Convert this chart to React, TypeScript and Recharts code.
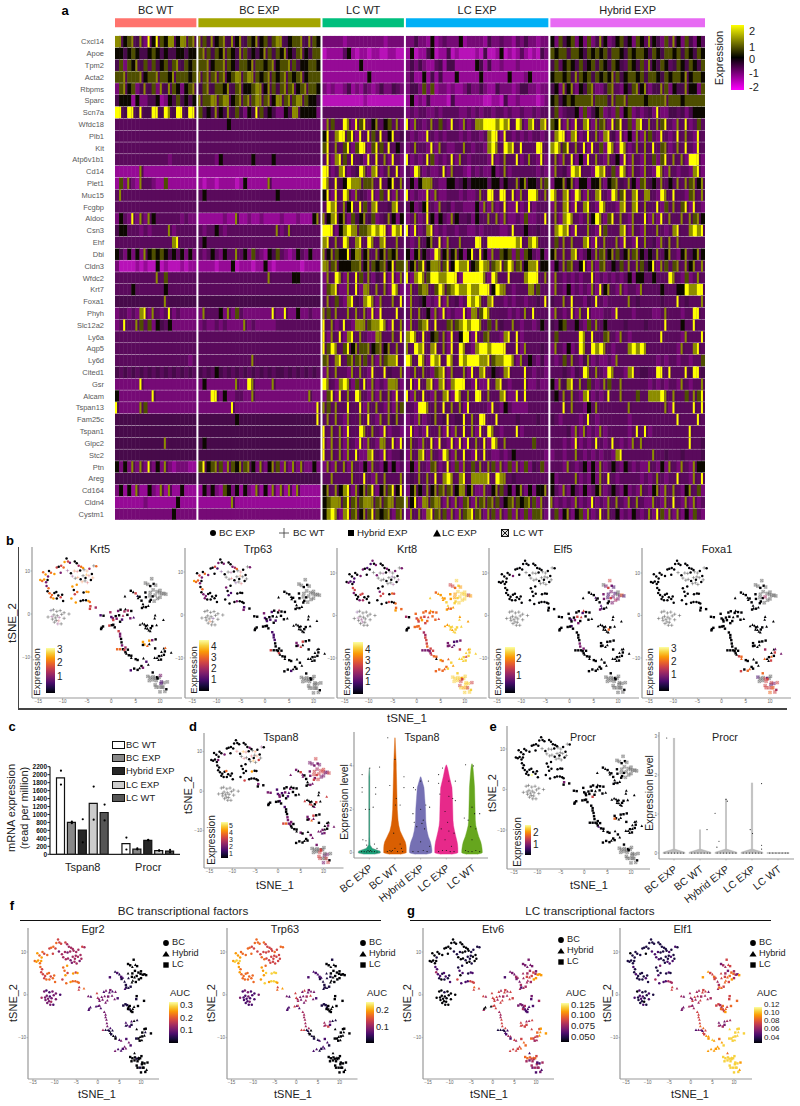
import React from "react";
import {
  ScatterChart, Scatter, XAxis, YAxis, ReferenceArea, ComposedChart, Bar, Cell, Line, Area,
} from "recharts";

const FONT = '"Liberation Sans", Arial, sans-serif';

/* ---------- panel a ---------- */
const genes = ["Cxcl14","Apoe","Tpm2","Acta2","Rbpms","Sparc","Scn7a","Wfdc18","Plb1","Kit","Atp6v1b1","Cd14","Plet1","Muc15","Fcgbp","Aldoc","Csn3","Ehf","Dbi","Cldn3","Wfdc2","Krt7","Foxa1","Phyh","Slc12a2","Ly6a","Aqp5","Ly6d","Cited1","Gsr","Alcam","Tspan13","Fam25c","Tspan1","Gipc2","Stc2","Ptn","Areg","Cd164","Cldn4","Cystm1"];
const heatGroups = ["BC WT","BC EXP","LC WT","LC EXP","Hybrid EXP"];
const heatGroupCols = [20,30,20,35,38];
const heatGroupColors = ["#ff736d","#a3a500","#00bf7d","#00b0f6","#e76bf3"];
const heatPalette = ["#f000f0","#b812b8","#960a96","#760a76","#5a0a5c","#470a4a","#0c0800","#4e4e00","#8c8c00","#ffff00"];
const heatRows = [
"88678583969768868878 875867858685768675788567785876 33333233333333323333 33533262343336233332533433243533233 63756736373586346756376486537486375364",
"66567655676565566566 787576876587565687576865786577 12222462122122112211 26122561225121111215112612124212153 76775776576767577657677657657767576576",
"57376857475675785767 778677876577687767867787566776 22222222262222222222 35353224525522222652522322232222222 57467657567576576547657486576457657657",
"77877786778776877767 878787867887887678767876786777 22222222222622222222 35226252522262222262222226222362222 67767587675767687567767577657677686776",
"37867358573858763678 578577685786678868757878678776 32322352324323533543 35537372332322353353225333235533233 56386836578335784365786835587365586637",
"56662633556236575656 877887886787878878688787887665 11111111112111111111 26232522221522222221122152232222123 67567677778777587787777677778777677777",
"99599595599598599599 756586585753659756533658866663 44444444444444444444 34344334344443343434434434334334344 57345563735673437367343453933554535666",
"44444444444444444444 444444464444444444444444444444 38744983979468467483 93843484743943834889998989498389489 76938394893878397947389484879438493474",
"44444444444444444444 444444444444444444444444444444 69489979394975946945 43433943434443434434899394343434434 48993893494838953936383874394349484394",
"44444444444444444444 444444444444444444444444444444 79484793799379749464 34844393843344843443898498949444994 89879484939473983983484849478348494394",
"44444444444443444444 444436444444464444644444444444 49389749453949483943 93434973434938434444393484493484393 48384936394843846393843847379484839993",
"22222282222222222222 222222222222222222222222222222 99348934598389348493 43983433493844324343363483444444343 38453989443989473983843843983843443893",
"27383284432272222222 212212222126222228222222222222 98495698887784946958 46368884336645656666466465586866587 36686836636683678548637856484648487868",
"48444444444444444444 464444444444444444464444444444 69394983854393749383 93433938334443433484994994938499848 98489398384894398794894884398494437848",
"44444444444444444444 444444444444444444444444444444 49894869497489445894 46346943845344333638383493393493444 38489394894398443894894844937484793943",
"36439383864444443433 222222322822322322223222322268 86896837568573458636 34834963643864453644848383343733449 48389843486983794843844938394844848786",
"56644434344448344444 434464344444444444483484444444 99936898877898993989 93934893434434433434444334944644544 48989394484397444893843844843489448989",
"44444444444444894444 464444444444444444444444444444 89484984894984894484 43484684938448444994999999989489844 47484844893948448394394845385848444444",
"65363638676765646363 434643644846374326574323643633 86876696886848687684 63686439868686369596384767373764363 68484893464878687568786465846843685686",
"31111212116121112122 222212226122212262122222212222 88786667786876786977 86879688879698896798878979878688966 36487846938378465748487569387478486848",
"44444444448474444444 444444444444444448444446644444 38498384974835493938 93898799889993999998398449444899948 38434343449343434346366446444984373484",
"44446444444464444444 444444444444444444444444444444 37893384938848483983 38478847987898898899969884344488744 38436343438396843834438444464446698899",
"55555555555585555555 555555555555555555555555555555 48474389548983844849 38456343938453498984894434344344549 54484944354943444448454444454449454448",
"34434389384349343333 384446383743333333933933633433 87484484848393944494 48484638393433938879844443434849444 38434938493334439444344443348444344994",
"34944874736546333333 343343433338343333344444444444 94834943888788983948 38478949447878989984748544843443464 54674464374846444454444544449444644944",
"44444444444444444444 444444444444444444444444444444 93849389484338844849 89849467483946993947844389493444444 47444449849447843843444444494444384449",
"44444444444444444444 444444444444444444444444444444 97984796877867868484 84989489483949843899899994493844454 38436349849898434448989844444443844894",
"44444444444444444434 444444444444484444444444444444 78489478787483878894 98498398949849899988978899838464353 43474843583433438444444444343443443447",
"54545454545454545454 545465454545454545455454545454 38484438484394495448 34848437893844839489465489444943443 44454354984843984438945544994944495995",
"33333393333333333333 363333333833983333833333333333 98438983749383438883 49394893893899943933948943444933433 63858948474348744844444434343443843448",
"63333333393333333333 333993633443383333333333333833 37939484984383848394 93849438489398484994844893394944444 56484843893434944844474488898484474879",
"93333387333333333333 333333339333333333333333333339 87484494493848438387 44399848494848394444394364333344444 44494844364844444448444444448394444949",
"55555555555555555555 555555555655555555555555555559 48484384484943848584 34383458459455948499449444454444544 54344443494344444443444444444449444494",
"55555555555555555555 555555555555555555555555555555 94848394498484393443 39343944839384948394984344493444444 44445383834383444443494934444444449444",
"55555555555585555555 565555555555555555555555555555 93848384393843884939 48438493943939394849398484444447444 44434393434943494343848444444444449445",
"55555555555555555555 555555555555555555555555555555 94848384933894393445 38489384398384943949433434644444443 34434484343434438944444448445444544445",
"63638383936383233322 796787387687863836873838383363 38384838436384363634 36384378349373847484873837383735473 44438434636383464364343384363843843866",
"55555555555555555555 555555555555555555555555555555 44844448449438484448 45484849489848948888949884544444444 63444483436384943444443434843449443849",
"36262822632828226222 263632763626328262828282822222 68486893868793687969 36864868787868868338468746368363668 64383643634683464363438436838484368473",
"22222223222222262222 222222228222222222222222222222 67888797878887878877 86938878838383783878787467876787384 83434383439343848438484338438494383834",
"33333333333333633333 333333333333333333333333333333 68983897868797678378 38483897873838789783873837383737783 47368367383494846343643483973838363743",
];
const heatCells = (() => {
  const out: any[] = [];
  heatRows.forEach((line, r) => {
    const parts = line.split(" ");
    let offset = 0;
    parts.forEach((p, g) => {
      const cols = heatGroupCols[g];
      const at = (c: number) => Number(p[c] ?? p[c - p.length] ?? "4");
      for (let c = 0; c < cols; c++) {
        const d = at(c);
        const solo = d >= 8 && (c + 1 >= cols || at(c + 1) < 8);
        out.push({ col: offset + c + 0.5, row: r + 0.5, d, solo, last: c === cols - 1 });
      }
      offset += cols + 0.5;
    });
  });
  return out;
})();
const heatTicks = genes.map((_, i) => i + 0.5);
const CELL_W = 590 / 145;
const CELL_H = 11.73;

function HeatCell(p: any) {
  const { d, solo, last } = p.payload;
  const x = p.cx - CELL_W / 2; const y = p.cy - CELL_H / 2 + 0.15; const h = CELL_H - 0.3;
  const w = CELL_W + (last ? 0 : 0.5);
  if (solo) {
    return (
      <g>
        <rect x={x} y={y} width={w} height={h} fill="#520a54" />
        <rect x={x} y={y} width={CELL_W * 0.5} height={h} fill={heatPalette[d]} />
      </g>
    );
  }
  return <rect x={x} y={y} width={w} height={h} fill={heatPalette[d]} />;
}

function HeatPanel() {
  let off = 0;
  const bands = heatGroups.map((g, i) => {
    const b = { name: g, x1: off, x2: off + heatGroupCols[i], color: heatGroupColors[i] };
    off += heatGroupCols[i] + 0.5;
    return b;
  });
  return (
    <div style={{ position: "absolute", left: 20, top: 0 }}>
      <ScatterChart width={690} height={520} margin={{ top: 0.3, right: 5, left: 0, bottom: 0 }}>
        <XAxis type="number" dataKey="col" domain={[0, 145]} hide />
        <YAxis type="number" dataKey="row" reversed domain={[-3, 41]} ticks={heatTicks} width={95} interval={0}
          tickFormatter={(v: number) => genes[Math.round(v - 0.5)] ?? ""} axisLine={false} tickLine={false} tickMargin={5}
          tick={{ fontSize: 7.5, fill: "#5a5a5a", fontFamily: FONT }} />
        <Scatter data={heatCells} isAnimationActive={false} shape={HeatCell} />
        {bands.map((b) => (
          <ReferenceArea key={b.name} x1={b.x1} x2={b.x2} y1={-1.49} y2={-0.72} fill={b.color} fillOpacity={1} stroke="none" ifOverflow="extendDomain" />
        ))}
      </ScatterChart>
      {bands.map((b) => (
        <T key={b.name} x={115 - 20 + (b.x1 + b.x2) / 2 * CELL_W} y={10} size={11} color="#222">{b.name}</T>
      ))}
    </div>
  );
}

/* ---------- shared helpers ---------- */
function T({ x, y, size = 10, rot = 0, anchor = "middle", bold = false, color = "#222", children }: any) {
  const tx = anchor === "middle" ? "-50%" : "0";
  return (
    <span style={{ position: "absolute", left: x, top: y, fontFamily: FONT, fontSize: size, lineHeight: 1, color, fontWeight: bold ? 700 : 400, whiteSpace: "nowrap", transform: `translate(${tx},-50%) rotate(${rot}deg)` }}>
      {children}
    </span>
  );
}
const inferno = ["#000004","#1b0c41","#4a0c6b","#781c6d","#a52c60","#cf4446","#ed6925","#fb9b06","#f7d13d","#fcffa4"];
const infernoGradient = `linear-gradient(to top, ${inferno.join(",")})`;
const heatGradient = "linear-gradient(to top,#ff00ff,#000000 50%,#ffff00)";
function ColorBar({ x0, x1, y0, y1, grad = infernoGradient }: any) {
  return <div style={{ position: "absolute", left: x0, top: y0, width: x1 - x0, height: y1 - y0, background: grad }} />;
}

/* ---------- tSNE coordinates, by region ---------- */
const clusterA = [[-14.6,7.9],[-14.2,7.7],[-13.8,8],[-13.4,7.4],[-13.1,7.9],[-14,9.7],[-13.5,9.2],[-13,8.7],[-12.8,10],[-12.4,9.6],[-11.7,9.3],[-11.2,10.8],[-10.8,11],[-10.3,11.2],[-9.8,10.8],[-10.4,9.6],[-9.6,12.1],[-9.2,12.9],[-8.9,12.2],[-8.5,11.9],[-7.5,12.2],[-7.1,11.8],[-6.7,11.2],[-6.2,11],[-5.8,10.7]];
const clusterC = [[-9,10.1],[-8.3,9.5],[-7.6,10],[-7,9.9],[-6.4,10.1],[-5.6,10.3],[-5,10],[-4.5,10.5],[-3.6,11.2],[-3.1,11.1],[-8,8.8],[-7.4,8.3],[-6.9,8.5],[-6.3,8.1],[-5.8,8.9],[-5.1,9.1],[-4.6,8.9],[-4,9.3],[-6,7.5],[-5.4,7.7],[-4.9,7.3],[-4.2,7.9],[-3.8,8.4],[-5.3,8.4]];
const clusterB = [[-13.3,6.5],[-12.9,6],[-13.1,5.3],[-12.7,4.8],[-12.2,4.4],[-11.7,4.9],[-11.3,5.1],[-10.9,4.3],[-12.4,3.9],[-11.9,3.6],[-11.2,3.6],[-10.4,3.9],[-9.9,3],[-10.1,4.5]];
const clusterD = [[-8,6.4],[-7.7,5.6],[-7.1,6.8],[-7.5,4.6],[-7,5.1],[-5.7,5],[-5.1,5.2],[-4.7,5.1],[-7.3,2.7],[-6.3,3],[-5.8,3.2],[-5.2,3.2],[-4.7,3],[-4.4,2.8],[-8.2,3.6]];
const clusterE = [[-13,-0.7],[-12.2,-0.6],[-11.8,-0.2],[-11.5,-0.9],[-11.1,-0.4],[-10.7,-0.8],[-10.2,-0.1],[-9.7,0.3],[-12.4,0.8],[-11.9,1],[-11.2,0.6],[-11.3,-1.5],[-10.8,-1.6],[-11.7,-1.9],[-11,-2.3],[-10.3,-2.3],[-9.7,-1],[-12.1,-1.2],[-8.7,0],[-10.5,0.8]];
const clusterF = [[-4.3,1.8],[-4.4,1.2],[-3.2,1.5],[-2.2,-0.3],[-1.6,-0.4],[-2.1,-3.5],[-2,-3.2],[-1.7,-2.9]];
const clusterG = [[-0.2,0.4],[0,-0.7],[0.3,-1],[0.4,-1.4],[0.9,-0.5],[1.1,-1.1],[1.6,-0.3],[1.8,-1.8],[2.2,-1.3],[2.4,-0.4],[2.7,0.6],[2.9,1.1],[1.4,0.7],[3.4,0.8],[3.9,-1],[4.6,-0.8],[4.1,0.7],[3.3,-0.2],[1.9,1],[0.4,-2.5],[-0.4,-2.7],[0.1,-2.6],[0.7,-3.1]];
const clusterH = [[1.5,-4],[1.8,-4.6],[1.8,-5.2],[2,-5.8],[2.1,-6.6],[2.2,-7.3],[2.9,-7.8]];
const clusterI = [[1.2,-8.2],[1.8,-8.2],[2.4,-8.2],[2.7,-8.4],[2.9,-8.9],[3.1,-9.2],[3.4,-8.3],[3.6,-9.6],[4.1,-9.7],[4.1,-10.2]];
const clusterJ = [[2.8,4.1],[4,5.4],[4.5,5.1],[5,4.8],[5.4,4.2],[5.8,4],[5.5,3.7],[6.2,3.1],[6.5,2.3],[6.3,1.4],[6.6,1.7],[7.1,1.6],[7.6,1.9],[7,5],[7.1,3.9]];
const clusterK = [[7,7.2],[7.5,6.9],[8,6.5],[8.3,8.2],[8.7,7],[9.1,6.7],[8.6,5.6],[8,5],[7.9,4.2],[8.5,4.1],[9,4.4],[9.4,5.2],[9.9,4.9],[10,3.9],[10.4,4.7],[10.8,4.8],[11.2,4.6],[9.5,3.6],[8.1,3.3],[7.9,2.9],[8.8,3],[10,5.5]];
const clusterL = [[5.9,-2.5],[6.4,-2.2],[6.8,-2.4],[7.1,-2.8],[7.4,-3.4],[7.7,-3.8],[8.1,-3.3],[8,-4],[7.4,-2.6],[8.4,-2.8],[8.9,-1],[9,-0.3],[9.3,-2.6],[10.7,-1.4],[7,-3.3]];
const clusterM = [[6.5,-6.5],[6.8,-7.1],[7.4,-7.4],[6.5,-7.2],[7.8,-6.2],[7.8,-7],[8.4,-6.1],[9.1,-5.9]];
const clusterN = [[9.4,-10.2],[9.8,-9.8],[10.3,-8.8],[10.8,-8],[11,-8.7],[10.2,-10.6],[9.7,-10.7],[10.8,-9.5],[11.1,-7.9],[12.3,-9],[8.9,-10.2],[10.3,-9.7],[9,-8]];
const clusterO = [[4,-13.1],[5.4,-13],[5.8,-12.6],[6.2,-12.1],[6.5,-12.5],[7.2,-11.1],[7.6,-11.8],[5,-10.5],[5.4,-10.7],[6.6,-10.3],[4.7,-12.7]];
const clusterP = [[7.5,-14.5],[8,-14.8],[8.6,-14.6],[9,-14.9],[9.4,-14.7],[9.8,-14.8],[10.1,-14.3],[7.8,-15.5],[8.5,-15.3],[9.2,-15.5],[9.5,-15],[9,-16.5],[9.8,-17],[9.2,-17],[10.2,-16.2],[10.8,-16],[10.4,-17],[11.3,-17.5],[11,-18],[10.6,-17],[11.5,-15.8],[10.3,-15.8],[10,-18.1],[8.5,-13.6]];
const clusters = [clusterA,clusterC,clusterB,clusterD,clusterE,clusterF,clusterG,clusterH,clusterI,clusterJ,clusterK,clusterL,clusterM,clusterN,clusterO,clusterP];
/* a=BC EXP w=BC WT h=Hybrid EXP l=LC EXP k=LC WT */
const pointGroups = "aaaaaaaaaaaaaaaaaaaaaaaaa wawwawwawawwwawwwawwwawa aaaaaaaaaaaaaa aaaaaaaaaaaaaaa wwwwwwwwwwwwwwwwwwww hhhhhhhh hhhhhhhhhlhlhhhlhhhhhhh hhhhhhh hhhhhlhhhl lhlhlhlhlhlhlhh kkhkhkkkkhkkkkkkkkhhkk lllhllhllhlllll hhlhhlhh lhllhhlhllllh hhlhhhlhhlh kkkkhkkkkkhkkkkkkhkkkkkh".split(" ");

/* colour index 0-9 per region, order as in clusters */
const valKrt5 = "7673067306750563705300467 306500640630600750605060 36066000670500 707560777000767 03000300100050300000 55420000 42350300244034320000500 5330034 6605000000 000510000000000 0000000000000000000000 000000000000000 77607030 0000000060000 20003200000 000000300000002000000200";
const valTrp63 = "7663005306300520300300346 200300500300500600205000 06033000300000 300220000030000 00000200000600000000 23000000 32020200200420000000000 2222000 5000500000 000000000000000 0000000000000000000000 000000000000000 33505000 0000000000000 02000000000 000000000000000000000000";
const valKrt8 = "0320200200330200230300030 030303030300000200003030 55300550034000 030550650050060 03030000200300000000 67640000 65656755656766656666666 4455565 3333455660 867777788766777 5568878778888884788888 778878888887878 33332223 8887888888855 66668877666 888878888555788888855888";
const valElf5 = "0000000000300000000000000 000000000000000000000000 00000000000000 000000000000000 00000000000000000000 00000000 00200353052500000002000 0000333 0000000000 000020002320033 0355323225320336240030 000000600000000 00000000 0000000000000 00000000000 000000000000000000000000";
const valFoxa1 = "0000000000000000000000000 000000000000000000000000 00000000000000 000000000000000 00000000000000000000 00000000 00000000000000000000000 0000000 0000000566 000000000000000 0000000000400000000000 000000000000000 00000000 0000550033664 56600000000 200530000555552354565566";
const valTspan8 = "0000300000300000000000030 507500603005005060070500 00000060000000 000007005000000 00000000000000000000 30033000 22332030223000000002000 2000333 5633000000 330530300003333 3335334555555333533555 500050030500055 33605300 3300332003300 00000333000 000050000555053300550033";
const valProcr = "0000000000000000000000000 000000000000000000000000 00000000009000 000000000000000 00000000000000000000 30000000 00000005000000000000000 0000000 0000020000 000000000000000 0000000000000000000000 000000000000000 00060000 0000000000000 00000000000 000000000000000000000000";
const valEgr2 = "6776776765656655655554444 344344445444434444344344 65555665566666 667757576766665 43332333322343323323 45632222 54333333332322323333222 3333332 4111011010 212122111211101 0000000000000000000000 111010000010000 22212101 0000100000100 32233322322 000100000000100000000000";
const valTrp63Auc = "7887877766666556666665555 555555656666555555555555 76766666666666 776788888788877 32223222233232222232 56732222 55443333443333323555532 4444444 5511100101 222222111111111 0001000010000000000000 111100000000000 44543211 0000000000000 21122211222 000000000000000000000000";
const valEtv6 = "0000000100000000000000000 111000111100011100001001 22422122101121 121021222225555 00000000001000000000 65554400 55555445545554555445055 4445555 1111222442 233344334424444 3333334455554777774443 333222224223244 55554545 5565744777655 55556665455 666566543444434232344222";
const valElf1 = "1111101111111110111111111 222111212122111121122211 21121111111211 113211212224444 21222112021101212111 55443333 44355444545545443443444 5555566 2332555777 775565544466555 3445553456666443776654 554455676555666 33443344 8888888888888 77777788767 888888888888888887887886";

function points(vals: string) {
  const vs = vals.split(" ");
  const out: any[] = [];
  clusters.forEach((cl, i) => cl.forEach((p, j) => {
    out.push({ x: p[0], y: p[1], g: pointGroups[i][j] ?? "a", v: Number(vs[i][j] ?? "0") });
  }));
  return out;
}

function Mark5(p: any) {
  const { cx, cy, payload } = p; const c = inferno[payload.v]; const g = payload.g;
  if (g === "w") return <path d={`M${cx - 1.7} ${cy}H${cx + 1.7}M${cx} ${cy - 1.7}V${cy + 1.7}`} stroke={payload.v ? c : "#555"} strokeOpacity={payload.v ? 0.5 : 0.8} strokeWidth={0.6} fill="none" />;
  if (g === "k") return <path d={`M${cx - 1.4} ${cy - 1.4}h2.8v2.8h-2.8zM${cx - 1.4} ${cy - 1.4}l2.8 2.8M${cx + 1.4} ${cy - 1.4}l-2.8 2.8`} stroke={payload.v ? c : "#666"} strokeOpacity={payload.v ? 0.6 : 0.7} strokeWidth={0.5} fill={payload.v ? c : "#888"} fillOpacity={0.35} />;
  if (g === "h") return <rect x={cx - 1.2} y={cy - 1.2} width={2.4} height={2.4} fill={c} />;
  if (g === "l") return <path d={`M${cx} ${cy - 1.5}L${cx + 1.4} ${cy + 1.1}H${cx - 1.4}Z`} fill={c} />;
  return <circle cx={cx} cy={cy} r={1.25} fill={c} />;
}
function Mark3(p: any) {
  const { cx, cy, payload } = p; const c = inferno[payload.v]; const g = payload.g;
  if (g === "h") return <path d={`M${cx} ${cy - 1.5}L${cx + 1.4} ${cy + 1.1}H${cx - 1.4}Z`} fill={c} />;
  if (g === "l" || g === "k") return <rect x={cx - 1.2} y={cy - 1.2} width={2.4} height={2.4} fill={c} />;
  return <circle cx={cx} cy={cy} r={1.25} fill={c} />;
}
const tsneXTicks = [-15,-10,-5,0,5,10];
const tsneYTicks = [-10,0,10];
const fmtTick = (v: number) => String(v).replace("-", "\u2212");

function TSNE({ box, tx, ty, vals, mark = Mark5 }: any) {
  const [x0, x1, y0, y1] = box;
  const sx = (tx[1] - tx[0]) / 25; const sy = (ty[1] - ty[0]) / 20;
  const dx = [-15 - (tx[0] - x0) / sx, 10 + (x1 - tx[1]) / sx];
  const dy = [-10 - (y1 - ty[1]) / sy, 10 + (ty[0] - y0) / sy];
  const axisLine = { stroke: "#999", strokeWidth: 1.2 };
  const tickLine = { stroke: "#777", strokeWidth: 0.4 };
  const tick = { fontSize: 4.5, fill: "#666", fontFamily: FONT };
  return (
    <div style={{ position: "absolute", left: x0 - 12, top: y0 - 2 }}>
      <ScatterChart width={x1 - x0 + 14} height={y1 - y0 + 14} margin={{ top: 2, right: 2, left: 0, bottom: 0 }}>
        <XAxis type="number" dataKey="x" domain={dx} ticks={tsneXTicks} height={12} axisLine={axisLine} tickLine={tickLine} tickSize={1.5} tickMargin={0.5} tick={tick} tickFormatter={fmtTick} interval={0} allowDataOverflow />
        <YAxis type="number" dataKey="y" domain={dy} ticks={tsneYTicks} width={12} axisLine={axisLine} tickLine={tickLine} tickSize={1.5} tickMargin={0.5} tick={tick} tickFormatter={fmtTick} interval={0} allowDataOverflow />
        <Scatter data={points(vals)} isAnimationActive={false} shape={mark} />
      </ScatterChart>
    </div>
  );
}

/* ---------- panel c ---------- */
const barSlots = ["T1","T2","T3","T4","T5","gap","P1","P2","P3","P4","P5"];
const barValues = [1920,800,610,1280,1050,null,270,130,350,90,80];
const barDot1 = [2100,780,880,1700,1250,null,420,120,350,90,50];
const barDot2 = [1750,820,300,870,850,null,120,150,360,100,110];
const barFills = ["#ffffff","#888888","#262626","#cccccc","#555555","#fff","#ffffff","#888888","#262626","#cccccc","#555555"];
const barLegend = ["BC WT","BC EXP","Hybrid EXP","LC EXP","LC WT"];
const barTicks = [0,200,400,600,800,1000,1200,1400,1600,1800,2000,2200];
const barTable = barSlots.map((s, i) => ({ slot: s, value: barValues[i], d1: barDot1[i], d2: barDot2[i] }));
const barTickName: any = { T3: "Tspan8", P3: "Procr" };

function BarPanel() {
  return (
    <div style={{ position: "absolute", left: 14, top: 760 }}>
      <ComposedChart width={170} height={118} data={barTable} margin={{ top: 6.7, right: 4, left: 0, bottom: 0 }}>
        <XAxis dataKey="slot" interval={0} height={23.7} padding={{ left: 5.5, right: 4.5 }} axisLine={{ stroke: "#222", strokeWidth: 1.2 }} tickLine={false} tickFormatter={(s: string) => barTickName[s] ?? ""} tick={{ fontSize: 11, fill: "#222", fontFamily: FONT }} tickMargin={3} />
        <YAxis type="number" domain={[0, 2200]} ticks={barTicks} width={36} interval={0} axisLine={{ stroke: "#222", strokeWidth: 1.2 }} tickLine={{ stroke: "#222" }} tickSize={2.5} tickMargin={0.5} tick={{ fontSize: 6.5, fill: "#111", fontWeight: 700, fontFamily: FONT }} />
        <Bar dataKey="value" barSize={8} stroke="#111" strokeWidth={1.2} isAnimationActive={false}>
          {barSlots.map((s, i) => <Cell key={s} fill={barFills[i]} />)}
        </Bar>
        <Line dataKey="d1" stroke="none" dot={{ r: 1.1, fill: "#000", stroke: "none" }} isAnimationActive={false} legendType="none" />
        <Line dataKey="d2" stroke="none" dot={{ r: 1.1, fill: "#000", stroke: "none" }} isAnimationActive={false} legendType="none" />
      </ComposedChart>
    </div>
  );
}

/* ---------- violins ---------- */
const violinNames = ["BC EXP","BC WT","Hybrid EXP","LC EXP","LC WT"];
const violinCats = [1,2,3,4,5];
const dark2 = ["#1b9e77","#d95f02","#7570b3","#e7298a","#66a61e"];
const tspanLevels = [-0.07,-0.03,0,0.08,0.2,0.35,0.5,0.75,1,1.25,1.5,2,2.5,3,3.5,3.9,4.05,4.1,5.3];
const tspanWidths = [
  [0.2,0.4,0.44,0.42,0.12,0.035,0.03,0.025,0.025,0.025,0.025,0.025,0.025,0.025,0.025,0.01,null,null,null],
  [0.2,0.38,0.44,0.44,0.44,0.43,0.4,0.3,0.2,0.15,0.12,0.09,0.08,0.07,0.06,0.05,0.05,0.05,0.005],
  [0.2,0.38,0.43,0.44,0.43,0.41,0.38,0.3,0.25,0.22,0.2,0.19,0.16,0.13,0.01,null,null,null,null],
  [0.2,0.4,0.45,0.45,0.45,0.44,0.42,0.37,0.32,0.28,0.26,0.25,0.24,0.22,0.12,0.05,0.005,null,null],
  [0.2,0.36,0.4,0.4,0.39,0.37,0.34,0.26,0.2,0.15,0.13,0.12,0.11,0.1,0.07,0.04,0.02,0.005,null],
];
const procrLevels = [-0.02,0.02,0.1,0.6,1.4,1.8,2.95];
const procrWidths = [
  [0.42,0.42,0.025,0.025,0.025,0.025,0.025],
  [0.42,0.42,0.02,0.02,null,null,null],
  [0.42,0.42,0.02,0.02,0.02,null,null],
  [0.42,0.42,0.025,0.025,0.025,0.025,null],
  [0.42,0.42,null,null,null,null,null],
];
const tspanDots = [[0.72,3.6],[0.72,3],[0.72,2.8],[1.02,3.9],[1.4,3.95],[0.85,2],[1.25,3],[1.25,2.7],[1.15,2.1],[1,2],[0.75,0.6],[0.87,0.55],[1.2,0.4],[0.9,0.35],[1.3,0.2],[0.7,0.05],[0.8,0.05],[0.9,0.04],[1,0.05],[1.1,0.05],[1.2,0.05],[1.3,0.03],[0.95,0.1],[1.05,0.1],
  [1.72,5.3],[2,4.3],[2.35,3.5],[1.8,3.1],[2.2,2.2],[2.05,2.5],[1.95,0.9],[2.2,0.4],[2,0.2],[1.8,0.1],[2.3,0.05],[2.1,0.05],[1.9,0.1],[1.7,0.05],[2.25,0.2],[1.85,0.05],[2.35,3],[2.02,2.2],
  [2.72,3],[3,3.3],[3.3,3.3],[2.8,2.9],[3.2,2.2],[3.35,2.1],[3,2],[3.1,1.5],[2.7,1.8],[2.75,1.4],[3.15,1.1],[3.05,1.35],[2.85,1.2],[3.35,0.3],[3,0.5],[2.7,0.05],[2.9,0.05],[3.1,0.1],[3.25,0.05],
  [3.7,3.6],[3.7,3.2],[3.85,3.9],[4.1,3.3],[4.35,3.3],[3.75,2.7],[4.1,2.6],[4.35,2.4],[4.25,2.5],[3.95,1.9],[4.05,1.4],[3.8,1.1],[4.1,1],[4.3,0.9],[3.95,0.6],[4.2,0.3],[3.7,0.05],[3.85,0.1],[4,0.1],[4.15,0.05],[4.3,0.05],
  [4.75,4.05],[5.05,4],[4.7,1.6],[4.85,1.5],[5,2.1],[5.1,1.8],[5.3,1.8],[4.95,1.2],[5.15,1.1],[5,0.6],[4.75,0.1],[4.85,0.05],[5,0.05],[5.15,0.1],[5.3,0.05]];
const procrDots = [[0.72,2.95],[2.27,0.6],[2.58,1.02],[2.73,0.3],[2.65,0.15],[3,1.37],[3.05,1.33],[3.93,0.6],[4.02,0.5],[4.37,1.78],[4.37,0.2],[4.37,0.1],
  [0.65,0],[0.78,0],[0.9,0],[1.02,0],[1.14,0],[1.26,0],[1.36,0],[1.68,0],[1.8,0],[1.92,0],[2.04,0],[2.16,0],[2.28,0],[2.38,0],[2.66,0],[2.78,0],[2.9,0],[3.02,0],[3.14,0],[3.26,0],[3.38,0],[3.66,0],[3.78,0],[3.9,0],[4.02,0],[4.14,0],[4.26,0],[4.36,0],[4.68,0],[4.8,0],[4.92,0],[5.04,0],[5.16,0],[5.28,0],[5.38,0]];

function RotTick(p: any) {
  const { x, y, payload } = p;
  return <text x={x + 4} y={y + 8} textAnchor="end" fontSize={10.4} fill="#222" fontFamily={FONT} transform={`rotate(-38 ${x + 4} ${y + 8})`}>{violinNames[payload.value - 1]}</text>;
}
function Violin({ box, cx, zero, perUnit, ticks, levels, widths, dots, fills, strokes }: any) {
  const [x0, x1, y0, y1] = box;
  const ux = (cx[1] - cx[0]) / 4;
  const domX = [1 - (cx[0] - x0) / ux, 5 + (x1 - cx[1]) / ux];
  const domY = [-(y1 - zero) / perUnit, (zero - y0) / perUnit];
  const axisLine = { stroke: "#999", strokeWidth: 1.2 };
  const yTick = { fontSize: 4.5, fill: "#666", fontFamily: FONT };
  const LEFT = 34; const AXW = 10; const BOTTOM = 50;
  const W = x1 - x0 + LEFT + AXW + 2; const H = y1 - y0 + BOTTOM + 2;
  const pos: any = { position: "absolute", left: x0 - LEFT - AXW, top: y0 - 2 };
  return (
    <>
      {widths.map((w: any[], k: number) => {
        const rows = levels.map((lv: number, i: number) => (w[i] == null ? null : { level: lv, band: [k + 1 - w[i], k + 1 + w[i]] })).filter(Boolean);
        return (
          <div key={k} style={pos}>
            <ComposedChart layout="vertical" width={W} height={H} data={rows} margin={{ top: 2, right: 2, left: LEFT + AXW, bottom: BOTTOM }}>
              <XAxis type="number" domain={domX} hide allowDataOverflow />
              <YAxis type="number" dataKey="level" domain={domY} hide reversed allowDataOverflow />
              <Area dataKey="band" type="linear" stroke={strokes[k]} strokeWidth={0.4} fill={fills[k]} fillOpacity={1} isAnimationActive={false} dot={false} activeDot={false} />
            </ComposedChart>
          </div>
        );
      })}
      <div style={pos}>
        <ScatterChart width={W} height={H} margin={{ top: 2, right: 2, left: LEFT, bottom: 0 }}>
          <XAxis type="number" dataKey="x" domain={domX} ticks={violinCats} height={BOTTOM} axisLine={axisLine} tickLine={{ stroke: "#777", strokeWidth: 0.4 }} tickSize={1.5} tick={RotTick} interval={0} allowDataOverflow />
          <YAxis type="number" dataKey="y" domain={domY} ticks={ticks} width={AXW} axisLine={axisLine} tickLine={{ stroke: "#777", strokeWidth: 0.4 }} tickSize={1.5} tickMargin={0.5} tick={yTick} interval={0} allowDataOverflow />
          <Scatter data={dots.map((d: number[]) => ({ x: d[0], y: d[1] }))} isAnimationActive={false} shape={(p: any) => <circle cx={p.cx} cy={p.cy} r={0.55} fill="#111" />} />
        </ScatterChart>
      </div>
    </>
  );
}

function ShapeLegend({ x, y, dy, tx }: any) {
  const names = ["BC","Hybrid","LC"];
  return (
    <>
      {names.map((n, i) => {
        const yy = y + dy * i;
        return (
          <React.Fragment key={n}>
            <svg style={{ position: "absolute", left: x - 4, top: yy - 4, width: 8, height: 8 }} viewBox="-4 -4 8 8">
              {i === 0 && <circle r={2.9} fill="#000" />}
              {i === 1 && <path d="M0 -3L3.6 2.6H-3.6Z" fill="#000" />}
              {i === 2 && <rect x={-2.7} y={-2.7} width={5.4} height={5.4} fill="#000" />}
            </svg>
            <T x={tx} y={yy} size={9.2} anchor="start">{n}</T>
          </React.Fragment>
        );
      })}
    </>
  );
}

export default function App() {
  return (
    <div style={{ position: "absolute", left: 0, top: 0, width: 800, height: 1106, overflow: "hidden", background: "#fff" }}>
      <HeatPanel />
      <T x={65} y={10} size={13} bold color="#000">a</T>
      <T x={719} y={58} size={11} rot={-90}>Expression</T>
      <ColorBar x0={731} x1={744} y0={25} y1={90} grad={heatGradient} />
      {[["2",31],["1",47],["0",59],["-1",73],["-2",87]].map(([l, y]: any) => <T key={l} x={749} y={y} size={11} anchor="start">{l}</T>)}

      {/* panel b */}
      <T x={10} y={540} size={13} bold color="#000">b</T>
      <div style={{ position: "absolute", left: 18, top: 547, width: 769, height: 163, borderLeft: "1.5px solid #444", borderBottom: "2px solid #444", boxSizing: "border-box" }} />
      <svg style={{ position: "absolute", left: 207, top: 527, width: 320, height: 12 }} viewBox="207 527 320 12">
        <circle cx={213} cy={533} r={3} fill="#000" />
        <path d="M279 533H289M284 528V538" stroke="#333" strokeWidth={0.8} />
        <rect x={348} y={530} width={6} height={6} fill="#000" />
        <path d="M437 529.5L441 536.5H433Z" fill="#000" />
        <rect x={501.5} y={529.5} width={7} height={7} fill="#ddd" stroke="#000" strokeWidth={0.9} />
        <path d="M501.5 529.5l7 7M508.5 529.5l-7 7" stroke="#000" strokeWidth={0.9} />
      </svg>
      <T x={219} y={533} size={9.8} anchor="start">BC EXP</T>
      <T x={293} y={533} size={9.8} anchor="start">BC WT</T>
      <T x={357} y={533} size={9.8} anchor="start">Hybrid EXP</T>
      <T x={442} y={533} size={9.8} anchor="start">LC EXP</T>
      <T x={513} y={533} size={9.8} anchor="start">LC WT</T>

      <TSNE box={[32,182,547,698]} tx={[38.3,160]} ty={[571,657]} vals={valKrt5} />
      <TSNE box={[184.5,334,548,698]} tx={[191.7,313]} ty={[572,658]} vals={valTrp63} />
      <TSNE box={[337.3,487,548,698]} tx={[345,465]} ty={[573,658]} vals={valKrt8} />
      <TSNE box={[489,639,548,698]} tx={[497,618]} ty={[573,658]} vals={valElf5} />
      <TSNE box={[642,791,548,698]} tx={[649,770]} ty={[573,658]} vals={valFoxa1} />
      <T x={12} y={623} size={11.6} rot={-90}>tSNE_2</T>
      <T x={407} y={718} size={11.6}>tSNE_1</T>
      {[["Krt5",100],["Trp63",258],["Krt8",407],["Elf5",563],["Foxa1",717]].map(([n, x]: any) => <T key={n} x={x} y={549} size={11}>{n}</T>)}
      <ColorBar x0={46} x1={55} y0={648} y1={693} />
      <T x={37} y={672} size={9.6} rot={-90}>Expression</T>
      {[["3",650],["2",663],["1",677]].map(([l, y]: any) => <T key={l} x={57} y={y} size={10} anchor="start">{l}</T>)}
      <ColorBar x0={199} x1={209} y0={640} y1={691} />
      <T x={194} y={670} size={9.6} rot={-90}>Expression</T>
      {[["4",647],["3",658],["2",669],["1",680]].map(([l, y]: any) => <T key={l} x={211} y={y} size={10} anchor="start">{l}</T>)}
      <ColorBar x0={353} x1={363} y0={642} y1={694} />
      <T x={347} y={672} size={9.6} rot={-90}>Expression</T>
      {[["4",650],["3",661],["2",672],["1",682]].map(([l, y]: any) => <T key={l} x={365} y={y} size={10} anchor="start">{l}</T>)}
      <ColorBar x0={505} x1={515} y0={647} y1={693} />
      <T x={498} y={672} size={9.6} rot={-90}>Expression</T>
      {[["2",659],["1",676]].map(([l, y]: any) => <T key={l} x={516} y={y} size={10} anchor="start">{l}</T>)}
      <ColorBar x0={659} x1={669} y0={647} y1={691} />
      <T x={650} y={672} size={9.6} rot={-90}>Expression</T>
      {[["3",649],["2",662],["1",675]].map(([l, y]: any) => <T key={l} x={671} y={y} size={10} anchor="start">{l}</T>)}

      {/* panel c */}
      <T x={12} y={726} size={13} bold color="#000">c</T>
      <BarPanel />
      <T x={11} y={808} size={11} rot={-90}>mRNA expression</T>
      <T x={24} y={808} size={11} rot={-90}>(read per million)</T>
      {barLegend.map((n, i) => (
        <React.Fragment key={n}>
          <div style={{ position: "absolute", left: 112, top: 741 + i * 13.2, width: 13, height: 8, background: barFills[i], border: "1.2px solid #111", boxSizing: "border-box" }} />
          <T x={126} y={745 + i * 13.2} size={9.4} anchor="start">{n}</T>
        </React.Fragment>
      ))}

      {/* panel d */}
      <T x={193} y={726} size={13} bold color="#000">d</T>
      <TSNE box={[203.5,343,733,868]} tx={[209,323]} ty={[751.7,830.7]} vals={valTspan8} />
      <T x={281} y={737} size={10.8}>Tspan8</T>
      <T x={275} y={885} size={11}>tSNE_1</T>
      <T x={188} y={795} size={11} rot={-90}>tSNE_2</T>
      <ColorBar x0={220.5} x1={228} y0={822} y1={858} />
      <T x={212} y={840} size={10} rot={-90}>Expression</T>
      {[["5",825],["4",832],["3",839],["2",846],["1",853]].map(([l, y]: any) => <T key={l} x={229} y={y} size={7} anchor="start">{l}</T>)}
      <Violin box={[354,488,732,858]} cx={[369.3,472]} zero={852.7} perUnit={21.7} ticks={[0,2,4]} levels={tspanLevels} widths={tspanWidths} dots={tspanDots} fills={dark2} strokes={["#999","#d95f02","#7570b3","#e7298a","#66a61e"]} />
      <T x={422} y={737} size={10.8}>Tspan8</T>
      <T x={345} y={802} size={10.4} rot={-90}>Expression level</T>

      {/* panel e */}
      <T x={493} y={726} size={13} bold color="#000">e</T>
      <TSNE box={[507,650,726,869]} tx={[514,631]} ty={[749,830]} vals={valProcr} />
      <T x={583} y={737} size={10.8}>Procr</T>
      <T x={589} y={885} size={11}>tSNE_1</T>
      <T x={492} y={793} size={11} rot={-90}>tSNE_2</T>
      <ColorBar x0={525} x1={531} y0={825} y1={855} />
      <T x={518} y={842} size={10} rot={-90}>Expression</T>
      {[["2",833],["1",845]].map(([l, y]: any) => <T key={l} x={533} y={y} size={10} anchor="start">{l}</T>)}
      <Violin box={[659,794,732,859]} cx={[674,778]} zero={853} perUnit={39} ticks={[0,1,2,3]} levels={procrLevels} widths={procrWidths} dots={procrDots} fills={["#bbb","#bbb","#bbb","#bbb","#bbb"]} strokes={["#aaa","#aaa","#aaa","#aaa","#aaa"]} />
      <T x={725} y={737} size={10.8}>Procr</T>
      <T x={650} y={793} size={10.4} rot={-90}>Expression level</T>

      {/* panel f */}
      <T x={12} y={905} size={13} bold color="#000">f</T>
      <T x={183} y={911} size={11.7}>BC transcriptional factors</T>
      <div style={{ position: "absolute", left: 20, top: 919.5, width: 361, height: 1.5, background: "#111" }} />
      <TSNE box={[28,159,928,1079]} tx={[33,141]} ty={[952,1037.7]} vals={valEgr2} mark={Mark3} />
      <T x={93} y={929} size={11}>Egr2</T>
      <T x={97} y={1094} size={11}>tSNE_1</T>
      <T x={13} y={1003} size={11} rot={-90}>tSNE_2</T>
      <ShapeLegend x={166} y={943} dy={11} tx={172} />
      <T x={180} y={993} size={9.5}>AUC</T>
      <ColorBar x0={169} x1={178} y0={1002} y1={1043} />
      {[["0.3",1006],["0.2",1019],["0.1",1031]].map(([l, y]: any) => <T key={l} x={180} y={y} size={9.2} anchor="start">{l}</T>)}

      <TSNE box={[226.5,357,928,1079]} tx={[231,339]} ty={[952,1037.7]} vals={valTrp63Auc} mark={Mark3} />
      <T x={285} y={929} size={11}>Trp63</T>
      <T x={293} y={1094} size={11}>tSNE_1</T>
      <T x={211} y={1003} size={11} rot={-90}>tSNE_2</T>
      <ShapeLegend x={363} y={943} dy={11} tx={369} />
      <T x={377} y={993} size={9.5}>AUC</T>
      <ColorBar x0={366} x1={374} y0={1002} y1={1043} />
      {[["0.2",1011],["0.1",1028]].map(([l, y]: any) => <T key={l} x={376} y={y} size={9.2} anchor="start">{l}</T>)}

      {/* panel g */}
      <T x={411} y={910} size={13} bold color="#000">g</T>
      <T x={590} y={911} size={11.7}>LC transcriptional factors</T>
      <div style={{ position: "absolute", left: 410, top: 919.5, width: 361, height: 1.5, background: "#111" }} />
      <TSNE box={[423,554,928,1079]} tx={[428,536]} ty={[952,1037.7]} vals={valEtv6} mark={Mark3} />
      <T x={493} y={929} size={11}>Etv6</T>
      <T x={489} y={1094} size={11}>tSNE_1</T>
      <T x={407} y={1003} size={11} rot={-90}>tSNE_2</T>
      <ShapeLegend x={561} y={940} dy={11} tx={567} />
      <T x={576} y={993} size={9.5}>AUC</T>
      <ColorBar x0={561} x1={569} y0={1003} y1={1042} />
      {[["0.125",1005],["0.100",1015],["0.075",1026],["0.050",1037]].map(([l, y]: any) => <T key={l} x={571} y={y} size={9.6} anchor="start">{l}</T>)}

      <TSNE box={[620,752,928,1079]} tx={[626,734]} ty={[952,1037.7]} vals={valElf1} mark={Mark3} />
      <T x={683} y={929} size={11}>Elf1</T>
      <T x={690} y={1094} size={11}>tSNE_1</T>
      <T x={607} y={1003} size={11} rot={-90}>tSNE_2</T>
      <ShapeLegend x={753} y={943} dy={11} tx={759} />
      <T x={767} y={993} size={9.5}>AUC</T>
      <ColorBar x0={754} x1={762} y0={1007} y1={1043} />
      {[["0.12",1005],["0.10",1013],["0.08",1021],["0.06",1029],["0.04",1038]].map(([l, y]: any) => <T key={l} x={764} y={y} size={8} anchor="start">{l}</T>)}
    </div>
  );
}
